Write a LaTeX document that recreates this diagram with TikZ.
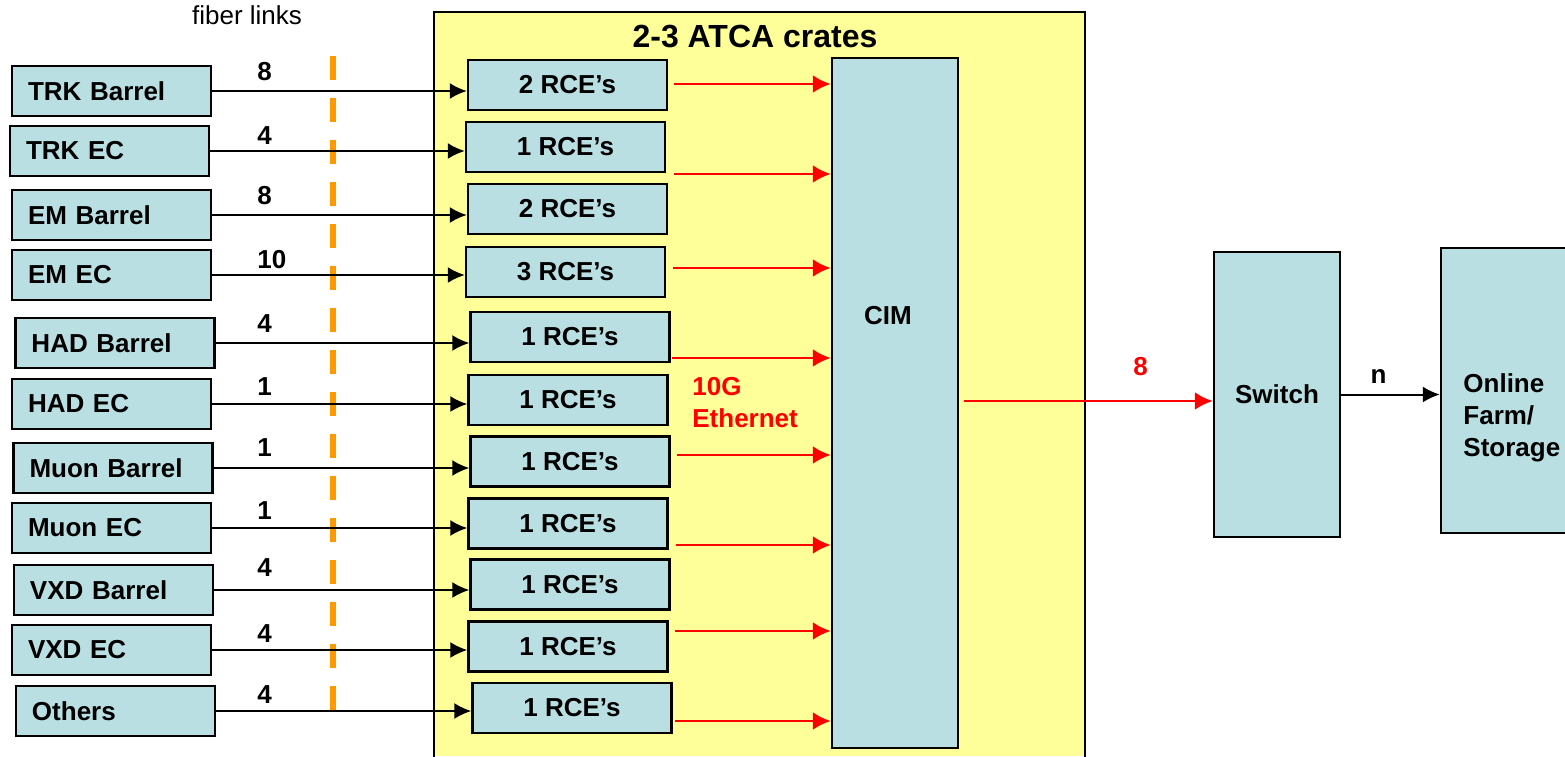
\documentclass[tikz,border=0pt]{standalone}
\usepackage{fontspec}
\setmainfont{Liberation Sans}
\usetikzlibrary{arrows.meta}

\definecolor{rceblue}{RGB}{185,223,227}
\definecolor{crateyellow}{RGB}{255,255,153}
\definecolor{fiberorange}{RGB}{255,153,0}
\definecolor{ethred}{RGB}{255,0,0}

\tikzset{
  bodyfont/.style={font=\fontsize{13}{16}\selectfont\bfseries},
  srcbox/.style={draw, line width=1.2pt, fill=rceblue, bodyfont,
    minimum height=25pt, text width=83.5pt, inner xsep=8pt, align=left},
  rcebox/.style={draw, line width=1.2pt, fill=rceblue, bodyfont,
    minimum width=99.5pt, minimum height=25pt, inner sep=0pt},
  tallbox/.style={draw, line width=1.2pt, fill=rceblue, bodyfont,
    minimum width=63pt, minimum height=142.5pt, inner sep=0pt},
  link/.style={line width=1pt, -{Latex[length=8.5pt,width=8pt]}},
  eth/.style={line width=1.4pt, ethred, -{Latex[length=9pt,width=9pt]}},
  num/.style={bodyfont, inner sep=0pt, anchor=west}
}

\begin{document}
\begin{tikzpicture}[x=0.5pt,y=-0.5pt]
    \useasboundingbox (0,0) rectangle (1565,756);

    % ATCA crate
    \fill[crateyellow] (434,12) rectangle (1085,756);
    \draw[line width=1.2pt] (434,760) |- (1085,12) -- (1085,760);
    \node[font=\fontsize{16}{19}\selectfont\bfseries] (crate) at (755,37) {2-3 ATCA crates};

    % fiber links
    \node[font=\fontsize{13}{16}\selectfont] (fiber) at (247,15) {fiber links};
    \draw[fiberorange, line width=3pt, dash pattern=on 12pt off 9pt] (333,56) -- (333,710);

    % CIM
    \node[tallbox, minimum height=345pt] (cim) at (895,403) {};
    \node[bodyfont] (cimtxt) at (888,316) {CIM};

    % Sub-detectors and RCE's
    \foreach \i/\src/\sx/\sy/\rx/\ry/\nrce/\nfib/\ly in {
        1/TRK Barrel/111.5/91/567.5/85/2/8/72,
        2/TRK EC/109.5/151/565.5/147/1/4/136,
        3/EM Barrel/111.5/215/567.5/209/2/8/196,
        4/EM EC/111.5/275/565.5/272/3/10/260,
        5/HAD Barrel/115/343/570/337/1/4/324,
        6/HAD EC/111.5/404/568/400/1/1/387,
        7/Muon Barrel/113/468/570/461.5/1/1/448,
        8/Muon EC/111.5/528/568/523.5/1/1/511,
        9/VXD Barrel/113.5/590/570/584.5/1/4/568,
        10/VXD EC/111.5/650/568/646.5/1/4/634,
        11/Others/115.5/711/572/708/1/4/695}
    {
        \node[srcbox] (s\i) at (\sx,\sy) {\src};
        \node[rcebox] (r\i) at (\rx,\ry) {\nrce\ RCE's};
        \draw[link] (s\i.east) -- (s\i.east -| r\i.west);
        \node[num] (n\i) at (257,\ly) {\nfib};
    }

    % 10G Ethernet
    \foreach \j/\ex/\ey in {1/674/84, 2/674/174, 3/673/268, 4/672/358,
                            5/677/455, 6/676/545, 7/675/631, 8/675/721}
    {
        \coordinate (e\j) at (\ex,\ey);
        \draw[eth] (e\j) -- (e\j -| cim.west);
    }
    \node[bodyfont, text=ethred, align=left, anchor=west, inner sep=0pt] (ethtxt) at (692,403) {10G\\Ethernet};

    % Switch and farm
    \node[tallbox] (sw) at (1277,394.5) {Switch};
    \node[tallbox] (farm) at (1504,390.5) {};
    \node[bodyfont, align=left, anchor=west, inner sep=0pt] (farmtxt) at (1463,418) {Online\\Farm/\\Storage};

    \draw[eth] ([xshift=2.5pt]cim.east |- 0,401) -- (sw.west |- 0,401)
        node[pos=0.71, yshift=17pt, bodyfont] (n8) {8};
    \draw[link] (sw.east) -- (sw.east -| farm.west)
        node[pos=0.38, above=5pt, bodyfont, inner sep=0pt] (nn) {n};

\end{tikzpicture}
\end{document}
